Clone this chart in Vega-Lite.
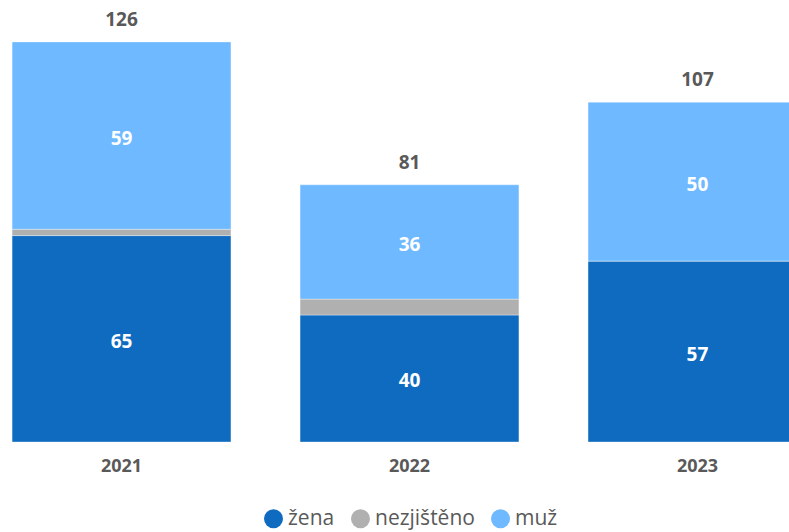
{
  "$schema": "https://vega.github.io/schema/vega-lite/v6.json",
  "autosize": "none",
  "padding": {"left": 0, "top": 0, "right": 0, "bottom": 90},
  "width": 819,
  "height": 442,
  "background": "white",
  "config": {
    "view": {"stroke": null},
    "font": "Open Sans"
  },
  "data": {
    "values": [
      {"year": "2021", "g": "žena", "value": 65},
      {"year": "2021", "g": "nezjištěno", "value": 2},
      {"year": "2021", "g": "muž", "value": 59},
      {"year": "2022", "g": "žena", "value": 40},
      {"year": "2022", "g": "nezjištěno", "value": 5},
      {"year": "2022", "g": "muž", "value": 36},
      {"year": "2023", "g": "žena", "value": 57},
      {"year": "2023", "g": "nezjištěno", "value": 0},
      {"year": "2023", "g": "muž", "value": 50}
    ]
  },
  "transform": [
    {"calculate": "indexof(['žena','nezjištěno','muž'], datum.g)", "as": "ord"}
  ],
  "encoding": {
    "x": {
      "field": "year",
      "type": "nominal",
      "scale": {"paddingInner": 0.24, "paddingOuter": 0.042},
      "axis": {
        "title": null,
        "domain": false,
        "ticks": false,
        "grid": false,
        "labelAngle": 0,
        "labelFontSize": 18,
        "labelFontWeight": "bold",
        "labelColor": "#595959",
        "labelPadding": 15
      }
    }
  },
  "layer": [
    {
      "mark": {"type": "bar", "stroke": "#ffffff", "strokeWidth": 0.6, "strokeOpacity": 0.6},
      "encoding": {
        "y": {
          "field": "value",
          "type": "quantitative",
          "stack": "zero",
          "scale": {"domain": [0, 139.2], "nice": false},
          "axis": null
        },
        "color": {
          "field": "g",
          "type": "nominal",
          "scale": {
            "domain": ["žena", "nezjištěno", "muž"],
            "range": ["#0F6BC0", "#B0B0B0", "#6EB9FF"]
          },
          "legend": {
            "title": null,
            "orient": "none",
            "direction": "horizontal",
            "legendX": 263,
            "legendY": 508,
            "symbolType": "circle",
            "symbolSize": 361,
            "symbolStrokeWidth": 0,
            "symbolOpacity": 1,
            "labelFontSize": 21,
            "labelColor": "#595959",
            "labelOffset": 4,
            "columnPadding": 15,
            "padding": 0
          }
        },
        "order": {"field": "ord", "type": "quantitative"}
      }
    },
    {
      "mark": {"type": "text", "color": "white", "fontWeight": "bold", "fontSize": 19, "baseline": "middle", "dy": 3},
      "encoding": {
        "y": {"field": "value", "type": "quantitative", "stack": "zero", "bandPosition": 0.5},
        "detail": {"field": "g"},
        "order": {"field": "ord", "type": "quantitative"},
        "text": {"field": "value", "type": "quantitative"},
        "opacity": {
          "condition": {"test": "datum.g === 'nezjištěno'", "value": 0},
          "value": 1
        }
      }
    },
    {
      "mark": {"type": "text", "color": "#595959", "fontWeight": "bold", "fontSize": 19, "baseline": "middle", "dy": -22},
      "encoding": {
        "y": {"aggregate": "sum", "field": "value", "type": "quantitative"},
        "text": {"aggregate": "sum", "field": "value", "type": "quantitative"}
      }
    }
  ]
}
